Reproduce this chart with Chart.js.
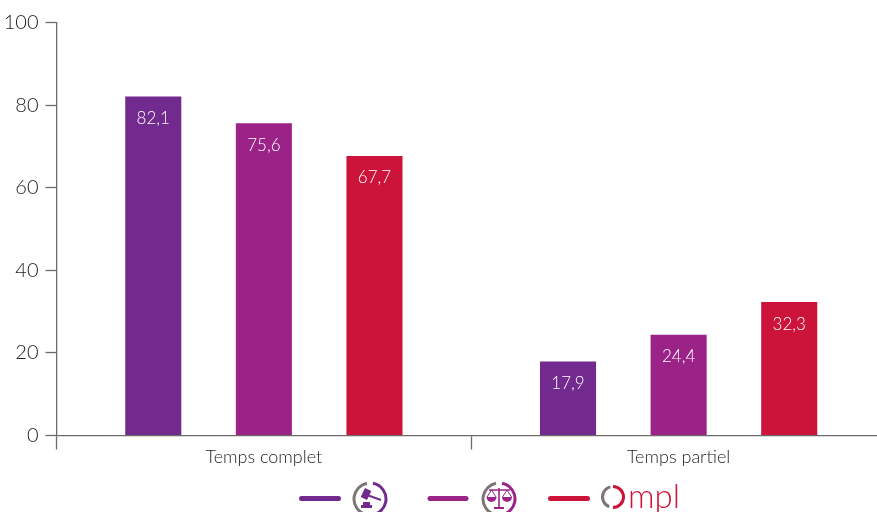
<!DOCTYPE html>
<html>
<head>
<meta charset="utf-8">
<style>
html,body{margin:0;padding:0;background:#fff;overflow:hidden;width:877px;height:512px}
canvas{display:block}
</style>
<script src="https://cdn.jsdelivr.net/npm/chart.js@4"></script>
</head>
<body>
<canvas id="chart" width="900" height="512"></canvas>
<script>
const categories = ["Temps complet", "Temps partiel"]
const gavelValues = [82.1, 17.9]
const scalesValues = [75.6, 24.4]
const omplValues = [67.7, 32.3]
const yTicks = [0, 20, 40, 60, 80, 100]

const purple = "#722a8e"
const magenta = "#9b2387"
const red = "#cc1339"
const grey = "#7d7674"
const axisColor = "#6e6a6a"
const textColor = "#1f1c1c"
const fontName = "Lato, 'Open Sans', sans-serif"

// white values inside the top of each bar
const valueLabels = {
  id: "valueLabels",
  afterDatasetsDraw(chart) {
    const ctx = chart.ctx
    ctx.save()
    ctx.fillStyle = "#fff"
    ctx.font = "300 17px " + fontName
    ctx.textAlign = "center"
    ctx.textBaseline = "middle"
    chart.data.datasets.forEach((ds, i) => {
      chart.getDatasetMeta(i).data.forEach((bar, j) => {
        ctx.fillText(String(ds.data[j]).replace(".", ","), bar.x, bar.y + 22)
      })
    })
    ctx.restore()
  }
}

function ring(ctx, x, y, r, color) {
  ctx.lineWidth = 3
  ctx.lineCap = "butt"
  ctx.strokeStyle = grey
  ctx.beginPath()
  ctx.arc(x, y, r, Math.PI * 0.56, Math.PI * 1.44)
  ctx.stroke()
  ctx.strokeStyle = color
  ctx.beginPath()
  ctx.arc(x, y, r, Math.PI * 1.56, Math.PI * 0.44)
  ctx.stroke()
}

function gavelIcon(ctx, x, y, color) {
  ring(ctx, x, y, 16, color)
  ctx.fillStyle = color
  ctx.strokeStyle = color
  ctx.lineCap = "butt"
  // head
  ctx.save()
  ctx.translate(x - 4, y - 5)
  ctx.rotate(Math.PI * 0.14)
  ctx.fillRect(-3.5, -5, 7, 10)
  ctx.restore()
  // handle
  ctx.lineWidth = 2
  ctx.beginPath()
  ctx.moveTo(x - 3, y - 4)
  ctx.lineTo(x + 11, y + 1)
  ctx.stroke()
  // base
  ctx.fillRect(x - 9, y + 6, 11, 3)
  ctx.fillRect(x - 7, y + 3, 7, 3)
}

function scaleIcon(ctx, x, y, color) {
  ring(ctx, x, y, 16, color)
  ctx.fillStyle = color
  ctx.strokeStyle = color
  ctx.lineWidth = 1.6
  ctx.lineCap = "butt"
  ctx.beginPath()
  ctx.moveTo(x - 10, y - 9)
  ctx.lineTo(x + 11, y - 9)
  ctx.moveTo(x, y - 11)
  ctx.lineTo(x, y + 9)
  ctx.stroke()
  ctx.fillRect(x - 5, y + 8, 10, 2)
  const pans = [x - 7.5, x + 8]
  pans.forEach(px => {
    ctx.lineWidth = 1
    ctx.beginPath()
    ctx.moveTo(px, y - 9)
    ctx.lineTo(px - 4.5, y - 2)
    ctx.moveTo(px, y - 9)
    ctx.lineTo(px + 4.5, y - 2)
    ctx.stroke()
    ctx.beginPath()
    ctx.arc(px, y - 2, 5, 0, Math.PI)
    ctx.fill()
  })
}

function omplIcon(ctx, x, y, color) {
  ctx.lineWidth = 3
  ctx.lineCap = "butt"
  ctx.strokeStyle = grey
  ctx.beginPath()
  ctx.arc(x, y, 10.5, Math.PI * 0.62, Math.PI * 1.42)
  ctx.stroke()
  ctx.strokeStyle = color
  ctx.beginPath()
  ctx.arc(x, y, 10.5, Math.PI * 1.5, Math.PI * 0.5)
  ctx.stroke()
  ctx.fillStyle = color
  ctx.font = "300 33px " + fontName
  ctx.textAlign = "left"
  ctx.textBaseline = "alphabetic"
  ctx.fillText("mpl", x + 15, y + 11)
}

// the legend of the original is made of logos, so it is drawn by hand
const logoLegend = {
  id: "logoLegend",
  afterDraw(chart) {
    const ctx = chart.ctx
    const swatches = [[301.5, 338.5, purple], [430, 466, magenta], [550.5, 587.5, red]]
    ctx.save()
    swatches.forEach(s => {
      ctx.strokeStyle = s[2]
      ctx.lineWidth = 5
      ctx.lineCap = "round"
      ctx.beginPath()
      ctx.moveTo(s[0], 498.5)
      ctx.lineTo(s[1], 498.5)
      ctx.stroke()
    })
    gavelIcon(ctx, 370, 499, purple)
    scaleIcon(ctx, 499, 499, magenta)
    omplIcon(ctx, 613, 497, red)
    ctx.restore()
  }
}

new Chart(document.getElementById("chart"), {
  type: "bar",
  data: {
    labels: categories,
    datasets: [
      { label: "gavel", data: gavelValues, backgroundColor: purple },
      { label: "scales", data: scalesValues, backgroundColor: magenta },
      { label: "ompl", data: omplValues, backgroundColor: red }
    ]
  },
  options: {
    responsive: false,
    animation: false,
    devicePixelRatio: 1,
    categoryPercentage: 0.8,
    barPercentage: 0.507,
    layout: { padding: { top: 22.5, right: 14 } },
    plugins: { legend: { display: false }, tooltip: { enabled: false } },
    scales: {
      x: {
        afterFit(axis) { axis.height = 76.5 },
        border: { color: axisColor, width: 1.3 },
        grid: { drawOnChartArea: false, color: axisColor, tickLength: 14, tickWidth: 1.3 },
        ticks: { color: textColor, font: { family: fontName, size: 18, weight: 300 }, padding: -3, maxRotation: 0 }
      },
      y: {
        min: 0,
        max: 100,
        afterFit(axis) { axis.width = 56.5 },
        afterBuildTicks(axis) { axis.ticks = yTicks.map(v => ({ value: v })) },
        border: { color: axisColor, width: 1.3 },
        grid: { drawOnChartArea: false, color: axisColor, tickLength: 11, tickWidth: 1.3 },
        ticks: { color: textColor, font: { family: fontName, size: 20, weight: 300 }, padding: 7 }
      }
    }
  },
  plugins: [valueLabels, logoLegend]
})
</script>
</body>
</html>
